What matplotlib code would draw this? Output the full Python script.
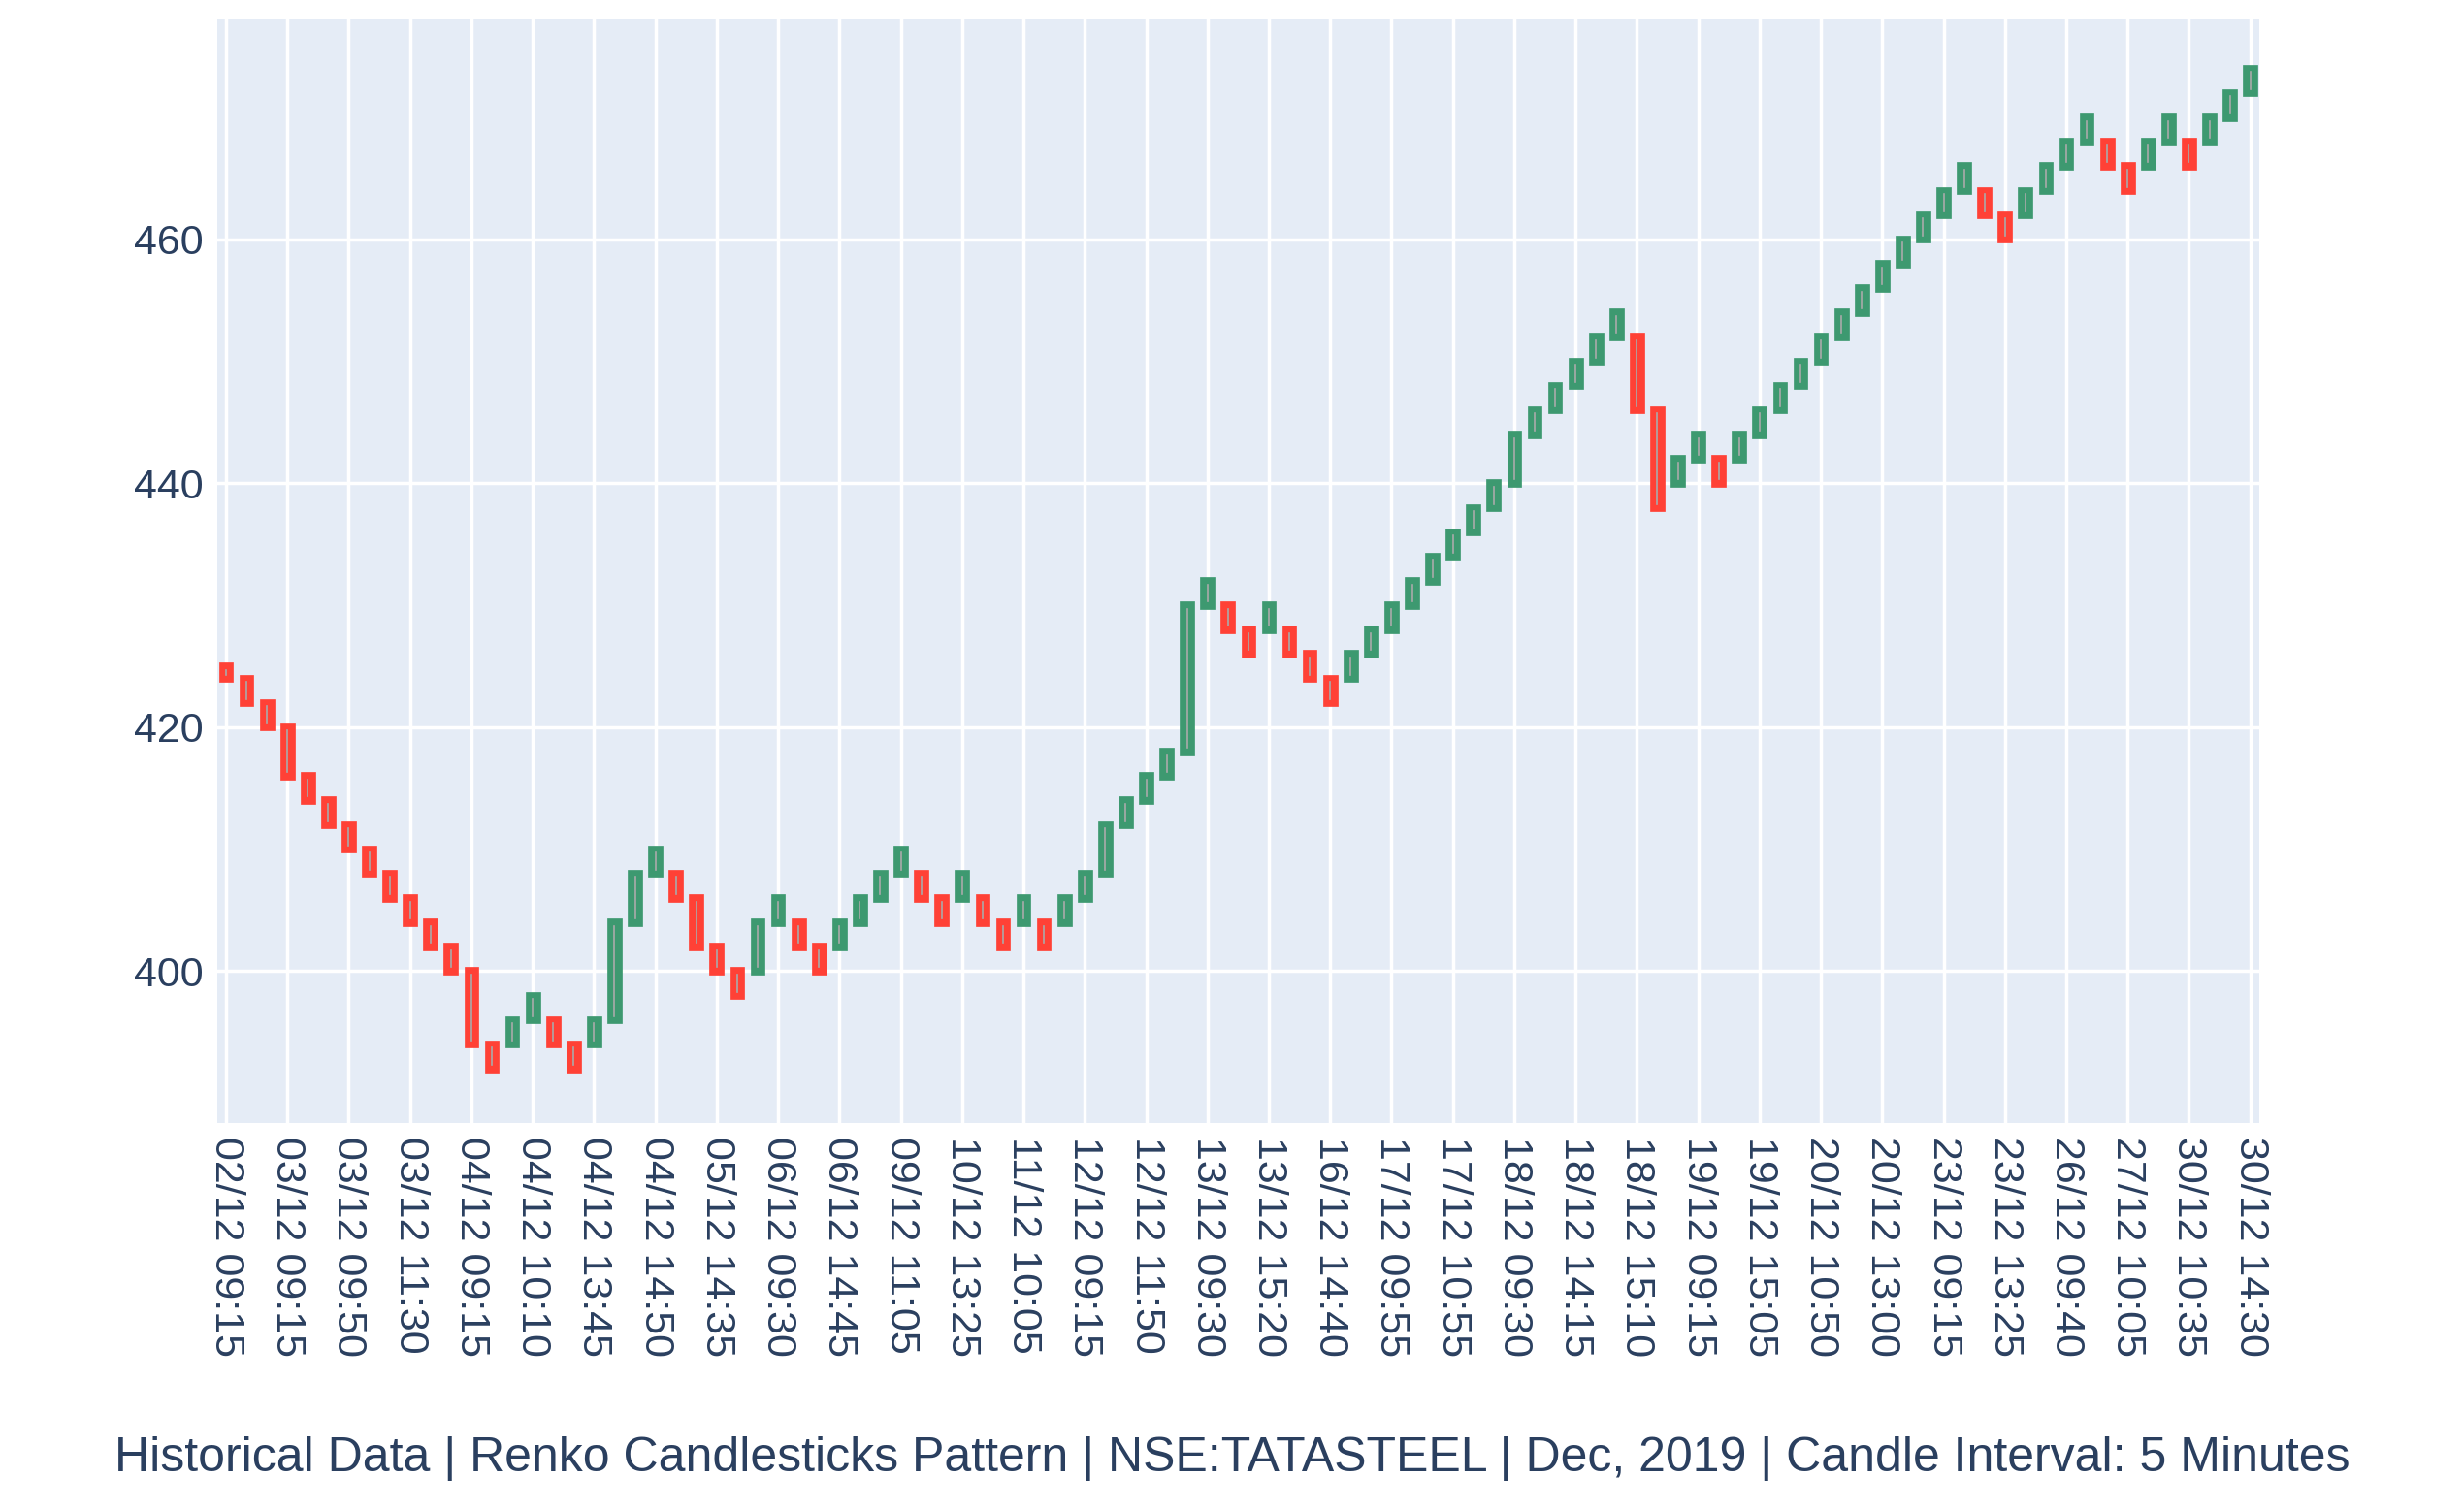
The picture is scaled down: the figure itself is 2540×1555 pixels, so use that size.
import numpy as np
import matplotlib.pyplot as plt
from matplotlib.patches import Rectangle

plt.rcParams['font.family'] = ['Liberation Sans', 'DejaVu Sans']

# renko bricks (open, close)
opens = [425, 424, 422, 420, 416, 414, 412, 410, 408, 406, 404, 402, 400, 394, 394, 396, 396, 394, 394, 396,
         404, 408, 408, 406, 402, 400, 400, 404, 404, 402, 402, 404, 406, 408, 408, 406, 406, 406, 404, 404,
         404, 404, 406, 408, 412, 414, 416, 418, 430, 430, 428, 428, 428, 426, 424, 424, 426, 428, 430, 432,
         434, 436, 438, 440, 444, 446, 448, 450, 452, 452, 446, 440, 442, 442, 442, 444, 446, 448, 450, 452,
         454, 456, 458, 460, 462, 464, 464, 462, 462, 464, 466, 468, 468, 466, 466, 468, 468, 468, 470, 472]
closes = [424, 422, 420, 416, 414, 412, 410, 408, 406, 404, 402, 400, 394, 392, 396, 398, 394, 392, 396, 404,
          408, 410, 406, 402, 400, 398, 404, 406, 402, 400, 404, 406, 408, 410, 406, 404, 408, 404, 402, 406,
          402, 406, 408, 412, 414, 416, 418, 430, 432, 428, 426, 430, 426, 424, 422, 426, 428, 430, 432, 434,
          436, 438, 440, 444, 446, 448, 450, 452, 454, 446, 438, 442, 444, 440, 444, 446, 448, 450, 452, 454,
          456, 458, 460, 462, 464, 466, 462, 460, 464, 466, 468, 470, 466, 464, 468, 470, 466, 470, 472, 474]

tick_labels = ["02/12 09:15", "03/12 09:15", "03/12 09:50", "03/12 11:30", "04/12 09:15", "04/12 10:10",
               "04/12 13:45", "04/12 14:50", "05/12 14:35", "06/12 09:30", "06/12 14:45", "09/12 11:05",
               "10/12 13:25", "11/12 10:05", "12/12 09:15", "12/12 11:50", "13/12 09:30", "13/12 15:20",
               "16/12 14:40", "17/12 09:55", "17/12 10:55", "18/12 09:30", "18/12 14:15", "18/12 15:10",
               "19/12 09:15", "19/12 15:05", "20/12 10:50", "20/12 13:00", "23/12 09:15", "23/12 13:25",
               "26/12 09:40", "27/12 10:05", "30/12 10:35", "30/12 14:30"]

fig = plt.figure(figsize=(25.4, 15.55), dpi=100)
ax = fig.add_axes([0.088, 0.255, 0.829, 0.732])
ax.set_facecolor('#E5ECF6')

w = 0.7
pad = 0.3
for i, (o, c) in enumerate(zip(opens, closes)):
    lo, hi = min(o, c), max(o, c)
    col = '#3D9970' if c > o else '#FF4136'
    ax.add_patch(Rectangle((i - w / 2, lo - pad), w, hi - lo + 2 * pad, facecolor=col,
                           edgecolor=col, linewidth=0.5, zorder=3))
    ax.plot([i, i], [lo + 0.3, hi - 0.3], color='#aaaaaa', linewidth=1.2, zorder=4)

ax.set_xlim(-0.45, len(opens) - 0.55)
ax.set_ylim(387.5, 478)
ax.set_yticks([400, 420, 440, 460])
ax.set_xticks(np.arange(0, len(opens), 3))
ax.set_xticklabels(tick_labels, rotation=-90)
ax.grid(True, color='white', linewidth=2.5)
ax.set_axisbelow(True)
for s in ax.spines.values():
    s.set_visible(False)
ax.tick_params(axis='both', length=0, labelsize=31, labelcolor='#2a3f5f', pad=10)

fig.text(0.5, 0.018, "Historical Data | Renko Candlesticks Pattern | NSE:TATASTEEL | Dec, 2019 | Candle Interval: 5 Minutes",
         ha='center', va='bottom', fontsize=36, color='#2a3f5f')

fig.savefig('out.png')
